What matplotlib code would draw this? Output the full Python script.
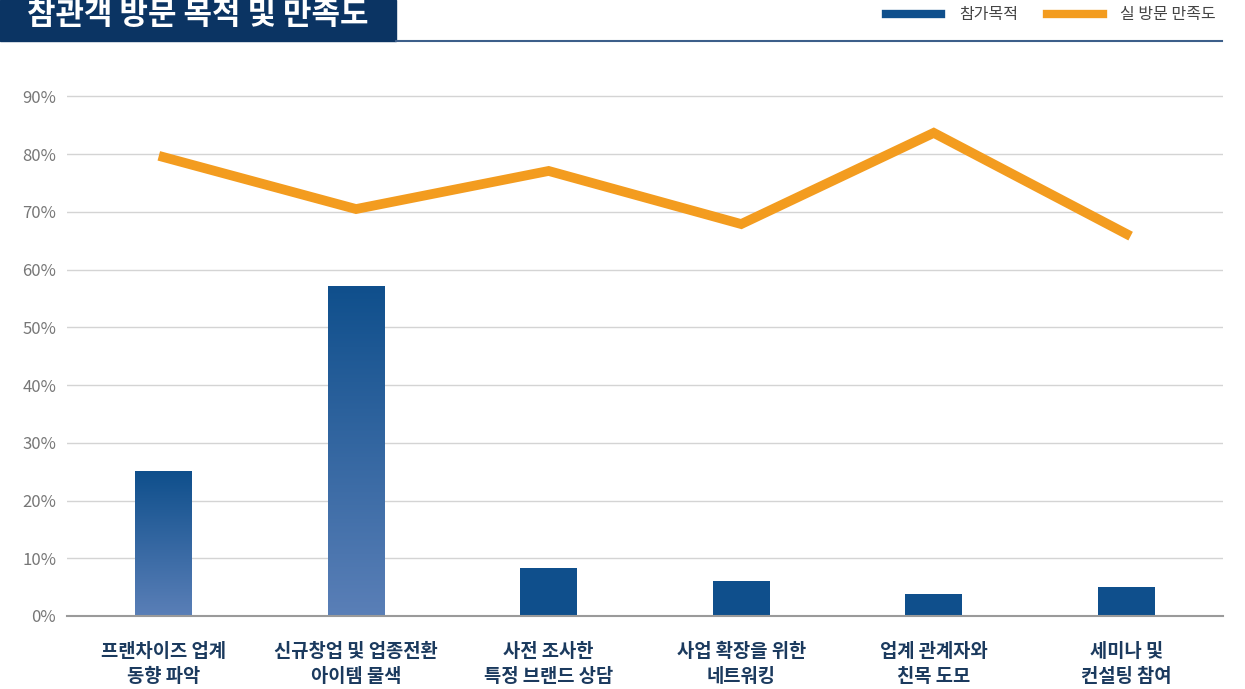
import matplotlib.pyplot as plt
import numpy as np
from matplotlib.colors import LinearSegmentedColormap
from matplotlib.patches import Rectangle
from matplotlib.lines import Line2D

plt.rcParams['font.family'] = ['Noto Sans CJK KR', 'DejaVu Sans']

categories = ['프랜차이즈 업계\n동향 파악', '신규창업 및 업종전환\n아이템 물색', '사전 조사한\n특정 브랜드 상담',
              '사업 확장을 위한\n네트워킹', '업계 관계자와\n친목 도모', '세미나 및\n컨설팅 참여']
purpose = [25.1, 57.2, 8.3, 6.1, 3.8, 5.0]
satisfaction = [79.5, 70.5, 77.1, 67.9, 83.7, 66.2]
yticks = [0, 10, 20, 30, 40, 50, 60, 70, 80, 90]

navy = '#0f4f8c'
orange = '#f39c1f'

fig = plt.figure(figsize=(12.45, 6.89), dpi=100)
ax = fig.add_axes([0.054, 0.106, 0.928, 0.7707])

x = np.arange(len(categories))
bars = ax.bar(x, purpose, width=0.295, color=navy, zorder=2)

# vertical gradient on the taller bars
cmap = LinearSegmentedColormap.from_list('g', ['#5a7fb7', navy])
grad = np.linspace(0, 1, 256).reshape(-1, 1)
for b, v in zip(bars, purpose):
    if v > 20:
        x0, w, h = b.get_x(), b.get_width(), b.get_height()
        im = ax.imshow(grad, cmap=cmap, origin='lower', aspect='auto',
                       extent=[x0, x0 + w, 0, h], zorder=3)
        im.set_clip_path(b)

ax.plot(x, satisfaction, color=orange, lw=7, solid_joinstyle='miter', zorder=4)

ax.set_xlim(-0.5, len(categories) - 0.5)
ax.set_ylim(0, 92)
ax.set_yticks(yticks)
ax.set_yticklabels([f'{t}%' for t in yticks], color='#777777', fontsize=12)
ax.set_xticks(x)
ax.set_xticklabels(categories, color='#1b3a5e', fontsize=13.5, fontweight='bold', linespacing=1.35)
ax.tick_params(axis='both', length=0)
ax.tick_params(axis='y', pad=8)
ax.tick_params(axis='x', pad=19)
ax.grid(axis='y', color='#d4d4d4', lw=1, zorder=0)
ax.set_axisbelow(True)
for s in ['top', 'right', 'left']:
    ax.spines[s].set_visible(False)
ax.spines['bottom'].set_color('#9a9a9a')
ax.spines['bottom'].set_linewidth(1.5)
ax.spines['bottom'].set_zorder(5)

# header
fig.patches.append(Rectangle((0, 1 - 41 / 689), 396 / 1245, 41 / 689, transform=fig.transFigure,
                             color='#0b3463', zorder=0))
fig.lines.append(Line2D([396 / 1245, 1222 / 1245], [1 - 41 / 689] * 2, transform=fig.transFigure,
                        color='#3d5f8a', lw=1.5))
fig.text(198 / 1245, 1 - 15 / 689, '참관객 방문 목적 및 만족도', color='white', fontsize=22.3,
         fontweight='bold', ha='center', va='center')

handles = [Line2D([], [], color=navy, lw=6), Line2D([], [], color=orange, lw=6)]
fig.legend(handles, ['참가목적', '실 방문 만족도'], loc='center right',
           bbox_to_anchor=(1216 / 1245, 1 - 15 / 689), ncol=2, frameon=False,
           fontsize=11.5, labelcolor='#444444', handlelength=3.5, columnspacing=1.8,
           handletextpad=1.1, borderaxespad=0, borderpad=0)

fig.savefig('out.png', dpi=100)
